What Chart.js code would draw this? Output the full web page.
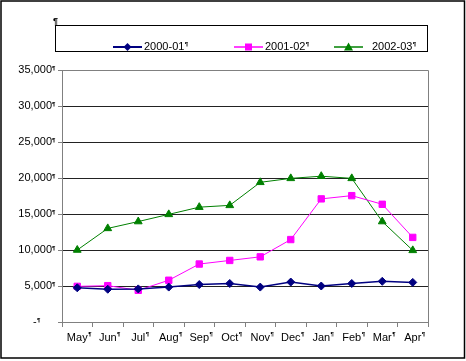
<!DOCTYPE html>
<html><head><meta charset="utf-8">
<script src="https://cdn.jsdelivr.net/npm/chart.js@4/dist/chart.umd.min.js"></script>
<style>html,body{margin:0;padding:0;background:#fff}canvas{display:block}</style>
</head><body><canvas id="c" width="466" height="361"></canvas>
<script>
const months = ['May','Jun','Jul','Aug','Sep','Oct','Nov','Dec','Jan','Feb','Mar','Apr'];
const seriesNames = ['2000-01','2001-02','2002-03'];
const values2000 = [4750, 4550, 4600, 4850, 5200, 5350, 4850, 5550, 5000, 5350, 5650, 5500];
const values2001 = [4950, 5050, 4400, 5800, 8050, 8550, 9050, 11450, 17100, 17550, 16350, 11750];
const values2002 = [10000, 13000, 13950, 14950, 15950, 16200, 19400, 19950, 20250, 19950, 13950, 9950];
const yMin = 0, yMax = 35000, yStep = 5000;

const FONT = '"Liberation Sans", Arial, sans-serif';
const colors = ['#000080', '#FF00FF', '#008000'];
const styles = ['rectRot', 'rect', 'triangle'];

function marker(ctx, style, x, y, color) {
  ctx.save();
  ctx.fillStyle = color;
  ctx.beginPath();
  if (style === 'rectRot') {
    ctx.moveTo(x, y - 4); ctx.lineTo(x + 4, y); ctx.lineTo(x, y + 4); ctx.lineTo(x - 4, y);
  } else if (style === 'rect') {
    ctx.rect(x - 3.5, y - 3.5, 7, 7);
  } else {
    ctx.moveTo(x, y - 4.5); ctx.lineTo(x + 4.5, y + 3.5); ctx.lineTo(x - 4.5, y + 3.5);
  }
  ctx.closePath();
  ctx.fill();
  ctx.restore();
}

const decor = {
  id: 'decor',
  afterDraw(chart) {
    const ctx = chart.ctx;
    const a = chart.chartArea;
    ctx.save();
    // outer border
    ctx.strokeStyle = '#000';
    ctx.lineWidth = 1.5;
    ctx.strokeRect(1, 1, 463.5, 357);
    // plot area top/right border
    ctx.strokeStyle = '#808080';
    ctx.lineWidth = 1;
    ctx.beginPath();
    ctx.moveTo(Math.round(a.left) + 0.5, Math.round(a.top) + 0.5);
    ctx.lineTo(Math.round(a.right) + 0.5, Math.round(a.top) + 0.5);
    ctx.lineTo(Math.round(a.right) + 0.5, Math.round(a.bottom) + 0.5);
    ctx.stroke();
    // legend box
    ctx.strokeStyle = '#000';
    ctx.strokeRect(55.5, 25.5, 372, 26);
    ctx.font = '11px ' + FONT;
    ctx.fillStyle = '#000';
    ctx.textBaseline = 'middle';
    const lx = [113, 234, 334];
    chart.data.datasets.forEach((ds, i) => {
      ctx.strokeStyle = colors[i];
      ctx.lineWidth = i === 0 ? 2 : 1.5;
      ctx.beginPath();
      ctx.moveTo(lx[i], 47);
      ctx.lineTo(lx[i] + 29, 47);
      ctx.stroke();
      marker(ctx, styles[i], lx[i] + 14.5, 47, colors[i]);
      ctx.fillStyle = '#000';
      ctx.fillText(ds.label, lx[i] + 31 + (i === 2 ? 7 : 0), 47);
      const w = ctx.measureText(ds.label).width;
      ctx.font = 'bold 6px ' + FONT;
      ctx.fillText('\u00B6', lx[i] + 31 + (i === 2 ? 7 : 0) + w + 0.5, 44);
      ctx.font = '11px ' + FONT;
    });
    // pilcrow above legend
    ctx.font = 'bold 9px ' + FONT;
    ctx.textBaseline = 'alphabetic';
    ctx.fillText('\u00B6', 53, 24);
    // tiny marks after tick labels
    ctx.font = 'bold 6px ' + FONT;
    ctx.textBaseline = 'middle';
    const ys = chart.scales.y;
    ys.ticks.forEach((t) => {
      const py = ys.getPixelForValue(t.value);
      ctx.fillText('\u00B6', t.value === 0 ? 37 : 52, py - 2);
    });
    const xs = chart.scales.x;
    ctx.font = '11px ' + FONT;
    months.forEach((m, i) => {
      const px = xs.getPixelForTick(i);
      const w = ctx.measureText(m).width;
      ctx.font = 'bold 6px ' + FONT;
      ctx.fillText('\u00B6', px + w / 2 + 0.5, 334);
      ctx.font = '11px ' + FONT;
    });
    ctx.restore();
  }
};

new Chart(document.getElementById('c'), {
  type: 'line',
  data: {
    labels: months,
    datasets: [values2000, values2001, values2002].map((v, i) => ({
      label: seriesNames[i],
      data: v,
      borderColor: colors[i],
      backgroundColor: colors[i],
      borderWidth: i === 0 ? 1.5 : 1,
      pointStyle: styles[i],
      pointRadius: i === 0 ? 4 : 4.5,
      pointBorderWidth: 1,
      pointBorderColor: colors[i],
      pointBackgroundColor: colors[i],
      tension: 0,
      fill: false
    }))
  },
  options: {
    responsive: false,
    animation: false,
    devicePixelRatio: 1,
    layout: { padding: { top: 70, right: 38, left: 0, bottom: 0 } },
    plugins: { legend: { display: false }, tooltip: { enabled: false } },
    scales: {
      x: {
        offset: true,
        grid: { offset: true, drawOnChartArea: false, color: '#808080', tickLength: 5 },
        border: { color: '#808080' },
        ticks: { color: '#000', font: { family: FONT, size: 11 }, padding: 4, maxRotation: 0, autoSkip: false },
        afterFit(s) { s.height = 39; }
      },
      y: {
        min: yMin, max: yMax,
        grid: {
          color: (c) => (c.tick && (c.tick.value === yMax || c.tick.value === yMin)) ? '#808080' : '#222',
          tickColor: '#808080',
          tickLength: 4
        },
        border: { color: '#808080' },
        ticks: {
          stepSize: yStep,
          color: '#000',
          font: { family: FONT, size: 11 },
          padding: 6,
          callback: (v) => v === 0 ? '-\u2007\u2007 ' : v.toLocaleString('en-US')
        },
        afterFit(s) { s.width = 62; }
      }
    }
  },
  plugins: [decor]
});
</script>
</body></html>
